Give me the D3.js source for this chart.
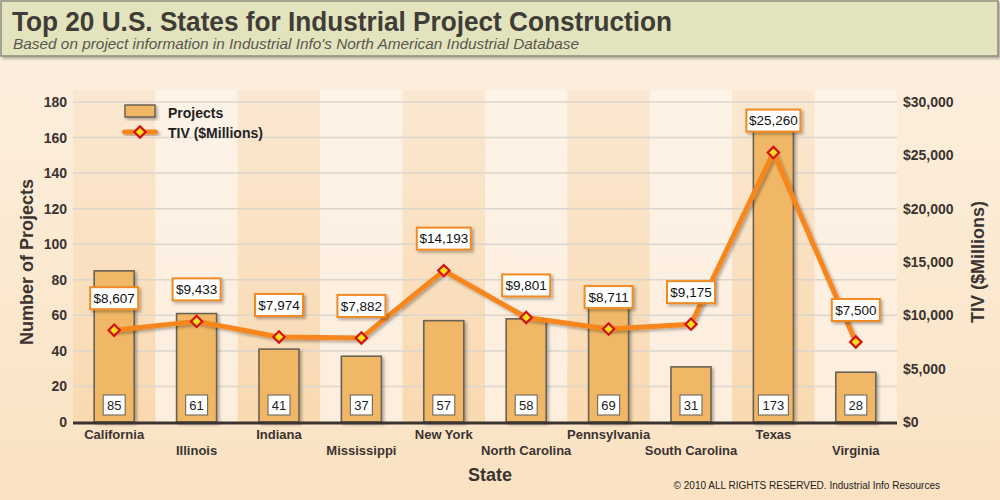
<!DOCTYPE html>
<html>
<head>
<meta charset="utf-8">
<script src="https://cdn.jsdelivr.net/npm/d3@7"></script>
<style>
  body { margin: 0; }
  svg { display: block; font-family: Arial, "Liberation Sans", sans-serif; }
</style>
</head>
<body>
<svg></svg>
<script>
// DATA
var states = ['California', 'Illinois', 'Indiana', 'Mississippi', 'New York',
    'North Carolina', 'Pennsylvania', 'South Carolina', 'Texas', 'Virginia'];
var projects = [85, 61, 41, 37, 57, 58, 69, 31, 173, 28];
var tiv = [8607, 9433, 7974, 7882, 14193, 9801, 8711, 9175, 25260, 7500];
var leftTicks = [0, 20, 40, 60, 80, 100, 120, 140, 160, 180];
var rightTicks = [0, 5000, 10000, 15000, 20000, 25000, 30000];

//SVG SETUP
var w = 1000,
    h = 500,
    plotLeft = 73,
    plotRight = 897,
    plotTop = 102,
    plotBottom = 422;

var svg = d3.select('svg')
    .attr('width', w)
    .attr('height', h);

var defs = svg.append('defs');

function addGrad(id, c1, c2) {
    var g = defs.append('linearGradient')
        .attr('id', id)
        .attr('x1', 0).attr('y1', 0).attr('x2', 0).attr('y2', 1);
    g.append('stop').attr('offset', '0%').attr('stop-color', c1);
    g.append('stop').attr('offset', '100%').attr('stop-color', c2);
}
addGrad('bgGrad', '#fdf1e2', '#fae2c2');
addGrad('darkStripe', '#fbe8d2', '#f9d9b0');
addGrad('lightStripe', '#fdf3e7', '#fdeedd');

var shadow = defs.append('filter')
    .attr('id', 'shadow')
    .attr('x', '-20%').attr('y', '-20%')
    .attr('width', '150%').attr('height', '150%');
shadow.append('feDropShadow')
    .attr('dx', 2).attr('dy', 2)
    .attr('stdDeviation', 1.5)
    .attr('flood-color', '#000')
    .attr('flood-opacity', 0.3);

// background
svg.append('rect')
    .attr('width', w)
    .attr('height', h)
    .attr('fill', 'url(#bgGrad)');

//SCALES
var xScale = d3.scaleBand()
    .domain(states)
    .range([plotLeft, plotRight]);

var yLeft = d3.scaleLinear()
    .domain([0, 180])
    .range([plotBottom, plotTop]);

var yRight = d3.scaleLinear()
    .domain([0, 30000])
    .range([plotBottom, plotTop]);

// alternating column stripes
svg.append('g').selectAll('rect')
    .data(states)
    .enter().append('rect')
    .attr('x', function(d) { return xScale(d); })
    .attr('y', plotTop - 12)
    .attr('width', xScale.bandwidth())
    .attr('height', plotBottom - plotTop + 12)
    .attr('fill', function(d, i) { return i % 2 == 0 ? 'url(#darkStripe)' : 'url(#lightStripe)'; });

// gridlines
svg.append('g').selectAll('line')
    .data(leftTicks.slice(1))
    .enter().append('line')
    .attr('x1', plotLeft)
    .attr('x2', plotRight)
    .attr('y1', function(d) { return yLeft(d); })
    .attr('y2', function(d) { return yLeft(d); })
    .attr('stroke', '#dcd6cc')
    .attr('stroke-width', 1.5);

// left axis
var leftAxis = svg.append('g')
    .attr('transform', 'translate(' + plotLeft + ',0)')
    .call(d3.axisLeft(yLeft).tickValues(leftTicks).tickSize(0).tickPadding(6));
leftAxis.select('.domain').remove();
leftAxis.selectAll('text')
    .attr('font-size', 14)
    .attr('font-weight', 'bold')
    .attr('font-family', 'Arial, "Liberation Sans", sans-serif')
    .attr('fill', '#3a3330');

// right axis
var rightAxis = svg.append('g')
    .attr('transform', 'translate(' + plotRight + ',0)')
    .call(d3.axisRight(yRight).tickValues(rightTicks).tickSize(0).tickPadding(6)
        .tickFormat(function(d) { return '$' + d3.format(',')(d); }));
rightAxis.select('.domain').remove();
rightAxis.selectAll('text')
    .attr('font-size', 14)
    .attr('font-weight', 'bold')
    .attr('font-family', 'Arial, "Liberation Sans", sans-serif')
    .attr('fill', '#3a3330');

// BARS
var barW = 40;
var bars = svg.append('g').selectAll('g')
    .data(states)
    .enter().append('g');

bars.append('rect')
    .attr('x', function(d) { return xScale(d) + xScale.bandwidth() / 2 - barW / 2; })
    .attr('y', function(d, i) { return yLeft(projects[i]); })
    .attr('width', barW)
    .attr('height', function(d, i) { return plotBottom - yLeft(projects[i]); })
    .attr('fill', '#f0b866')
    .attr('stroke', '#6b6254')
    .attr('stroke-width', 1.6)
    .attr('filter', 'url(#shadow)');

// bottom axis line
svg.append('rect')
    .attr('x', plotLeft)
    .attr('y', plotBottom - 0.5)
    .attr('width', plotRight - plotLeft)
    .attr('height', 3)
    .attr('fill', '#3a3330');

// count labels in bars
var countG = bars.append('g')
    .attr('transform', function(d) {
        return 'translate(' + (xScale(d) + xScale.bandwidth() / 2) + ',' + (plotBottom - 17) + ')';
    });
countG.append('rect')
    .attr('x', function(d, i) { return projects[i] > 99 ? -15 : -11; })
    .attr('y', -10)
    .attr('width', function(d, i) { return projects[i] > 99 ? 30 : 22; })
    .attr('height', 20)
    .attr('fill', '#fff')
    .attr('stroke', '#7a7166')
    .attr('stroke-width', 1.2);
countG.append('text')
    .attr('text-anchor', 'middle')
    .attr('dy', '0.36em')
    .attr('font-size', 13)
    .attr('fill', '#222')
    .text(function(d, i) { return projects[i]; });

// x labels, staggered
svg.append('g').selectAll('text')
    .data(states)
    .enter().append('text')
    .attr('x', function(d) { return xScale(d) + xScale.bandwidth() / 2; })
    .attr('y', function(d, i) { return i % 2 == 0 ? 439 : 455; })
    .attr('text-anchor', 'middle')
    .attr('font-size', 13)
    .attr('font-weight', 'bold')
    .attr('fill', '#3a3330')
    .text(function(d) { return d; });

// TIV LINE
var line = d3.line()
    .x(function(d, i) { return xScale(states[i]) + xScale.bandwidth() / 2; })
    .y(function(d) { return yRight(d); });

svg.append('path')
    .datum(tiv)
    .attr('d', line)
    .attr('fill', 'none')
    .attr('stroke', '#f7861c')
    .attr('stroke-width', 5)
    .attr('stroke-linejoin', 'round')
    .attr('filter', 'url(#shadow)');

var markers = svg.append('g').selectAll('g')
    .data(tiv)
    .enter().append('g')
    .attr('transform', function(d, i) {
        return 'translate(' + (xScale(states[i]) + xScale.bandwidth() / 2) + ',' + yRight(d) + ')';
    });
markers.append('rect')
    .attr('x', -4).attr('y', -4)
    .attr('width', 8).attr('height', 8)
    .attr('transform', 'rotate(45)')
    .attr('fill', '#f6e21c')
    .attr('stroke', '#d40f0f')
    .attr('stroke-width', 2.2);

// value labels
var tivLabel = svg.append('g').selectAll('g')
    .data(tiv)
    .enter().append('g')
    .attr('transform', function(d, i) {
        return 'translate(' + (xScale(states[i]) + xScale.bandwidth() / 2) + ',' + (yRight(d) - 32) + ')';
    });
tivLabel.append('rect')
    .attr('x', function(d) { return d >= 10000 ? -27 : -24; })
    .attr('y', -11)
    .attr('width', function(d) { return d >= 10000 ? 54 : 48; })
    .attr('height', 22)
    .attr('fill', '#fff')
    .attr('stroke', '#f08a24')
    .attr('stroke-width', 2)
    .attr('filter', 'url(#shadow)');
tivLabel.append('text')
    .attr('text-anchor', 'middle')
    .attr('dy', '0.36em')
    .attr('font-size', 13.5)
    .attr('fill', '#111')
    .text(function(d) { return '$' + d3.format(',')(d); });

// axis titles
svg.append('text')
    .attr('transform', 'translate(33,' + ((plotTop + plotBottom) / 2) + ') rotate(-90)')
    .attr('text-anchor', 'middle')
    .attr('font-size', 18)
    .attr('font-weight', 'bold')
    .attr('fill', '#3a3330')
    .text('Number of Projects');

svg.append('text')
    .attr('transform', 'translate(984,' + ((plotTop + plotBottom) / 2) + ') rotate(-90)')
    .attr('text-anchor', 'middle')
    .attr('font-size', 18)
    .attr('font-weight', 'bold')
    .attr('fill', '#3a3330')
    .text('TIV ($Millions)');

svg.append('text')
    .attr('x', 490)
    .attr('y', 481)
    .attr('text-anchor', 'middle')
    .attr('font-size', 18)
    .attr('font-weight', 'bold')
    .attr('fill', '#3a3330')
    .text('State');

// LEGEND
var legend = svg.append('g');
legend.append('rect')
    .attr('x', 125).attr('y', 105)
    .attr('width', 30).attr('height', 12)
    .attr('fill', '#f0b866')
    .attr('stroke', '#6b6254')
    .attr('stroke-width', 1.5)
    .attr('filter', 'url(#shadow)');
legend.append('text')
    .attr('x', 168).attr('y', 118)
    .attr('font-size', 14).attr('font-weight', 'bold')
    .attr('fill', '#222')
    .text('Projects');
legend.append('rect')
    .attr('x', 122).attr('y', 129.5)
    .attr('width', 36).attr('height', 5)
    .attr('rx', 2.5)
    .attr('fill', '#f7861c')
    .attr('filter', 'url(#shadow)');
legend.append('rect')
    .attr('x', -4).attr('y', -4)
    .attr('width', 8).attr('height', 8)
    .attr('transform', 'translate(140,132) rotate(45)')
    .attr('fill', '#f6e21c')
    .attr('stroke', '#d40f0f')
    .attr('stroke-width', 2.2);
legend.append('text')
    .attr('x', 168).attr('y', 138)
    .attr('font-size', 14).attr('font-weight', 'bold')
    .attr('fill', '#222')
    .text('TIV ($Millions)');

// HEADER
var header = svg.append('g');
header.append('rect')
    .attr('x', 1).attr('y', 1)
    .attr('width', 997).attr('height', 55)
    .attr('fill', '#e3e4bd')
    .attr('stroke', '#8c8c7c')
    .attr('stroke-width', 1.5)
    .attr('filter', 'url(#shadow)');
header.append('text')
    .attr('x', 12).attr('y', 31)
    .attr('font-size', 28).attr('font-weight', 'bold')
    .attr('textLength', 660)
    .attr('lengthAdjust', 'spacingAndGlyphs')
    .attr('fill', '#403c38')
    .text('Top 20 U.S. States for Industrial Project Construction');
header.append('text')
    .attr('x', 13).attr('y', 49)
    .attr('font-size', 15.5).attr('font-style', 'italic')
    .attr('textLength', 566)
    .attr('lengthAdjust', 'spacingAndGlyphs')
    .attr('fill', '#5a5650')
    .text("Based on project information in Industrial Info's North American Industrial Database");

// copyright
svg.append('text')
    .attr('x', 940).attr('y', 489)
    .attr('text-anchor', 'end')
    .attr('font-size', 10)
    .attr('fill', '#222')
    .text('\u00A9 2010 ALL RIGHTS RESERVED. Industrial Info Resources');
</script>
</body>
</html>
